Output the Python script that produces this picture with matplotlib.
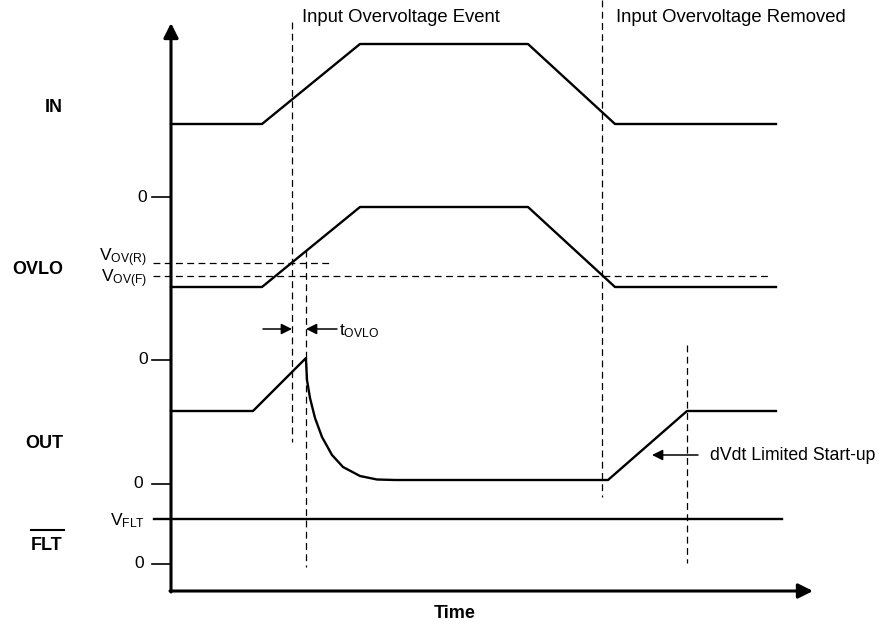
import matplotlib
matplotlib.use("Agg")
import matplotlib.pyplot as plt

plt.rcParams['font.family'] = ['Liberation Sans', 'DejaVu Sans']
plt.rcParams['mathtext.fontset'] = 'custom'
plt.rcParams['mathtext.rm'] = 'Liberation Sans'
plt.rcParams['mathtext.it'] = 'Liberation Sans'

# Waveforms (time on x, level on y, screen units, y down)
in_t = [171, 262, 360, 528, 615, 776]
in_v = [124, 124, 44, 44, 124, 124]

ovlo_t = [171, 262, 360, 528, 615, 776]
ovlo_v = [287, 287, 207, 207, 287, 287]

out_t = [171, 253, 306, 306, 307, 310, 315, 322, 332, 343, 360, 377, 395, 608, 687, 776]
out_v = [411, 411, 358, 360, 380, 398, 418, 437, 455, 467, 476, 479.5, 480, 480, 411, 411]

flt_t = [154, 782]
flt_v = [519, 519]

# threshold levels (horizontal dashed)
vov_r = 263
vov_f = 276
# event markers (vertical dashed): x, y start, y end
markers = [(292, 22, 442), (306, 250, 567), (602, 0, 497), (687, 345, 563)]

# zero ticks on the y axis
zero_ticks = [197, 360, 484, 564]
zero_x = [147, 148, 143, 144]

row_names = ['IN', 'OVLO', 'OUT', 'FLT']
row_y = [108, 270, 443, 546]

axis_x = 171
axis_y = 591

fig = plt.figure(figsize=(8.87, 6.25), dpi=100)
ax = fig.add_axes([0, 0, 1, 1])
ax.set_xlim(0, 887)
ax.set_ylim(625, 0)
ax.axis('off')

# axes with arrows
ax.annotate('', xy=(axis_x, 23), xytext=(axis_x, axis_y + 1),
            arrowprops=dict(arrowstyle='-|>', lw=2.2, color='black',
                            mutation_scale=22, shrinkA=0, shrinkB=0))
ax.annotate('', xy=(813, axis_y), xytext=(axis_x - 1, axis_y),
            arrowprops=dict(arrowstyle='-|>', lw=2.2, color='black',
                            mutation_scale=22, shrinkA=0, shrinkB=0))

# signals
sig = dict(color='black', lw=1.7, solid_joinstyle='round')
ax.plot(in_t, in_v, **sig)
ax.plot(ovlo_t, ovlo_v, **sig)
ax.plot(out_t, out_v, **sig)
ax.plot(flt_t, flt_v, **sig)

# dashed guides
dash = dict(color='black', lw=0.9, linestyle=(0, (5.5, 3.5)))
for x, y0, y1 in markers:
    ax.plot([x, x], [y0, y1], **dash)
ax.plot([153, 333], [vov_r, vov_r], **dash)
ax.plot([153, 770], [vov_f, vov_f], **dash)

# zero ticks and labels
for y, xl in zip(zero_ticks, zero_x):
    ax.plot([152, axis_x], [y, y], color='black', lw=1.2)
    ax.text(xl, y, '0', ha='right', va='center', fontsize=12.5)

ax.text(147, 258, r'V$_{\rm OV(R)}$', ha='right', va='center', fontsize=12.5)
ax.text(147, 279, r'V$_{\rm OV(F)}$', ha='right', va='center', fontsize=12.5)
ax.text(145, 521, r'V$_{\rm FLT}$', ha='right', va='center', fontsize=12.5)

# row names
for name, y in zip(row_names, row_y):
    ax.text(63, y, name, ha='right', va='center', fontsize=13, fontweight='bold')
ax.plot([31, 64], [530, 530], color='black', lw=1.5)

ax.text(455, 613, 'Time', ha='center', va='center', fontsize=13, fontweight='bold')

# annotations
ax.text(302, 17, 'Input Overvoltage Event', ha='left', va='center', fontsize=13.3)
ax.text(616, 17, 'Input Overvoltage Removed', ha='left', va='center', fontsize=13.3)

arr = dict(arrowstyle='-|>', lw=1.1, color='black', mutation_scale=16,
           shrinkA=0, shrinkB=0)
ax.annotate('', xy=(292, 329), xytext=(263, 329), arrowprops=arr)
ax.annotate('', xy=(306, 329), xytext=(337, 329), arrowprops=arr)
ax.text(339, 331, r't$_{\rm OVLO}$', ha='left', va='center', fontsize=12.5)

ax.annotate('', xy=(652, 455), xytext=(698, 455), arrowprops=arr)
ax.text(710, 455, 'dVdt Limited Start-up', ha='left', va='center', fontsize=12.7)

fig.savefig('out.png', dpi=100)
